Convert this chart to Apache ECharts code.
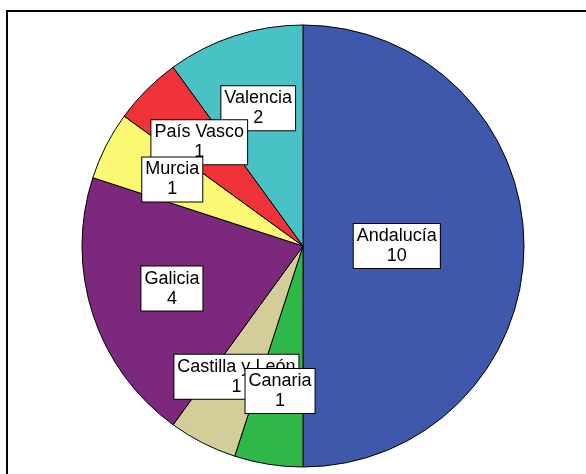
<!DOCTYPE html>
<html>
<head>
<meta charset="utf-8">
<script src="https://cdn.jsdelivr.net/npm/echarts@6/dist/echarts.min.js"></script>
<style>
  html, body { margin: 0; padding: 0; background: #fff; }
  #main { width: 586px; height: 474px; }
</style>
</head>
<body>
<div id="main"></div>
<script>
var regions = ["Andalucía", "Canaria", "Castilla y León", "Galicia", "Murcia", "País Vasco", "Valencia"];
var counts = [10, 1, 1, 4, 1, 1, 2];
var colors = ["#3E58AC", "#2EB848", "#D3CE97", "#7C287D", "#FBF873", "#EF3338", "#48C2C5"];

var total = counts.reduce((a, b) => a + b, 0);

// label at the centroid of each slice (as fraction of the radius)
var labelPoints = [];
var acc = 0;
counts.forEach((c, i) => {
  var half = (c / total) * Math.PI; // half angle in radians
  var dist = (2 * Math.sin(half)) / (3 * half);
  labelPoints.push({ name: regions[i], count: c, value: [dist, acc + c / 2] });
  acc += c;
});
// earlier slices' labels sit on top
labelPoints.reverse();

var myChart = echarts.init(document.getElementById("main"));
var center = [303, 246];
var radius = 221;

var option = {
  animation: false,
  backgroundColor: "#fff",
  graphic: [
    {
      type: "rect",
      shape: { x: 7, y: 11, width: 700, height: 600 },
      style: { fill: "none", stroke: "#000", lineWidth: 2 },
      silent: true
    }
  ],
  polar: { center: center, radius: radius },
  angleAxis: { type: "value", min: 0, max: total, startAngle: 90, show: false },
  radiusAxis: { type: "value", min: 0, max: 1, show: false },
  series: [
    {
      type: "pie",
      center: center,
      radius: radius,
      startAngle: 90,
      clockwise: true,
      silent: true,
      label: { show: false },
      labelLine: { show: false },
      itemStyle: { borderColor: "#000", borderWidth: 1 },
      emphasis: { disabled: true },
      data: regions.map((r, i) => ({
        name: r,
        value: counts[i],
        itemStyle: { color: colors[i] }
      }))
    },
    {
      type: "scatter",
      coordinateSystem: "polar",
      symbolSize: 0,
      silent: true,
      z: 5,
      itemStyle: { opacity: 1 },
      label: {
        show: true,
        position: "inside",
        formatter: p => p.data.name + "\n" + p.data.count,
        fontFamily: "Liberation Sans, Arial, sans-serif",
        fontSize: 18,
        lineHeight: 20,
        color: "#000",
        opacity: 1,
        align: "center",
        backgroundColor: "#fff",
        borderColor: "#000",
        borderWidth: 1,
        padding: [2, 3, 2, 3]
      },
      data: labelPoints
    }
  ]
};
myChart.setOption(option);
</script>
</body>
</html>
